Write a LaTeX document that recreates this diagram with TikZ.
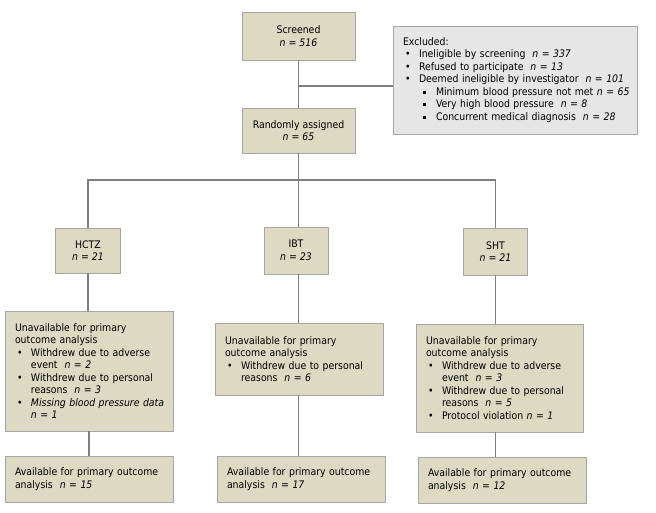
\documentclass[tikz,border=0pt]{standalone}
\usepackage{fontspec}
\setmainfont{DejaVu Sans Condensed}
\definecolor{boxfill}{HTML}{DDD9C3}
\definecolor{boxline}{HTML}{A6A6A6}
\definecolor{exfill}{HTML}{E6E6E6}
\definecolor{conn}{HTML}{7F7F7F}
\newcommand{\bl}[1]{\makebox[16pt][l]{\hspace{2pt}•}\mbox{#1}}
\newcommand{\ct}[1]{\hspace*{16pt}\mbox{#1}}
\newcommand{\sbl}[1]{\makebox[33pt][l]{\hspace{20pt}\raisebox{1.6pt}{\rule{3.2pt}{3.2pt}}}\mbox{#1}}
\newcommand{\nn}[1]{\textit{n = #1}}
\begin{document}
\begin{tikzpicture}[x=1pt,y=-1pt,
  every node/.style={font=\fontsize{10.4}{12.5}\selectfont},
  fbox/.style={draw=boxline,fill=boxfill,line width=0.8pt,inner sep=0pt},
  cbox/.style={fbox,align=center},
  lbox/.style={fbox,align=left,inner xsep=10pt},
  exbox/.style={draw=boxline,fill=exfill,line width=0.8pt,align=left,inner xsep=10pt,inner ysep=0pt},
  conn/.style={draw=conn,line width=1.2pt}]
\useasboundingbox (0,0) rectangle (656,512);
% top
\node[cbox,minimum width=113pt,minimum height=48pt] (scr) at (298.5,36) {Screened\\\nn{516}};
\node[cbox,minimum width=113pt,minimum height=45pt] (ran) at (298.5,130.5) {Randomly assigned\\\nn{65}};
\node[exbox,text width=224pt,minimum height=108pt] (ex) at (515,80) {Excluded:\\
\bl{Ineligible by screening \ \nn{337}}\\
\bl{Refused to participate \ \nn{13}}\\
\bl{Deemed ineligible by investigator \ \nn{101}}\\
\sbl{Minimum blood pressure not met \nn{65}}\\
\sbl{Very high blood pressure \ \nn{8}}\\
\sbl{Concurrent medical diagnosis \ \nn{28}}};
% groups
\node[cbox,minimum width=65pt,minimum height=45pt] (hctz) at (88,250.5) {HCTZ\\\nn{21}};
\node[cbox,minimum width=64pt,minimum height=47pt] (ibt) at (296,250.5) {IBT\\\nn{23}};
\node[cbox,minimum width=64pt,minimum height=47pt] (sht) at (495.5,251.5) {SHT\\\nn{21}};
% unavailable
\node[lbox,text width=148pt,minimum height=120pt] (u1) at (89,371) {Unavailable for primary\\outcome analysis\\
\bl{Withdrew due to adverse}\\\ct{event \ \nn{2}}\\
\bl{Withdrew due to personal}\\\ct{reasons \ \nn{3}}\\
\bl{\textit{Missing blood pressure data}}\\\ct{\nn{1}}};
\node[lbox,text width=148pt,minimum height=72pt] (u2) at (299,359) {Unavailable for primary\\outcome analysis\\
\bl{Withdrew due to personal}\\\ct{reasons \ \nn{6}}};
\node[lbox,text width=147pt,minimum height=108pt] (u3) at (499.5,378) {Unavailable for primary\\outcome analysis\\
\bl{Withdrew due to adverse}\\\ct{event \ \nn{3}}\\
\bl{Withdrew due to personal}\\\ct{reasons \ \nn{5}}\\
\bl{Protocol violation \nn{1}}};
% available
\node[lbox,text width=148pt,minimum height=46pt] (a1) at (89,479) {\mbox{Available for primary outcome}\\analysis \ \nn{15}};
\node[lbox,text width=148pt,minimum height=46pt] (a2) at (301,479) {\mbox{Available for primary outcome}\\analysis \ \nn{17}};
\node[lbox,text width=148pt,minimum height=46pt] (a3) at (502,480) {\mbox{Available for primary outcome}\\analysis \ \nn{12}};
% connectors
\coordinate (j) at (298.5,86);
\coordinate (br) at (298.5,180);
\draw[conn] (scr.south) -- (ran.north);
\draw[conn] (j) -- (j -| ex.west);
\draw[conn] (ran.south) -- (br);
\draw[conn] (hctz.north) -- (hctz.north |- br) -- (sht.north |- br) -- (sht.north);
\draw[conn] (ibt.north -| br) -- (br);
\draw[conn] (hctz.south) -- (hctz.south |- u1.north);
\draw[conn] (ibt.south -| br) -- (br |- u2.north);
\draw[conn] (sht.south) -- (sht.south |- u3.north);
\draw[conn] (u1.south) -- (u1.south |- a1.north);
\draw[conn] (br |- u2.south) -- (br |- a2.north);
\draw[conn] (sht.south |- u3.south) -- (sht.south |- a3.north);
\end{tikzpicture}
\end{document}
